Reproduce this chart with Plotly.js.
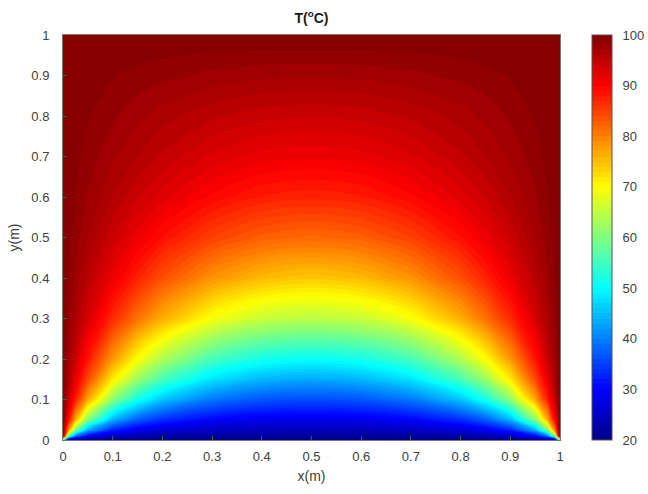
<!DOCTYPE html>
<html>
<head>
<meta charset="utf-8">
<script src="https://cdn.plot.ly/plotly-3.0.1.min.js"></script>
<style>html,body{margin:0;padding:0;background:#fff;}#plot{width:648px;height:494px;}</style>
</head>
<body>
<div id="plot"></div>
<script>
// grid positions (m)
var xs = [0, 0.01, 0.025, 0.05, 0.1, 0.15, 0.2, 0.3, 0.4, 0.5, 0.6, 0.7, 0.8, 0.85, 0.9, 0.95, 0.975, 0.99, 1];
var ys = [0, 0.01, 0.025, 0.05, 0.1, 0.15, 0.2, 0.3, 0.4, 0.5, 0.6, 0.7, 0.8, 0.9, 1];
// temperature (°C), one row per y
var T_y000 = [60,20,20,20,20,20,20,20,20,20,20,20,20,20,20,20,20,20,60];
var T_y001 = [100,60.1,39.5,30.2,25.3,23.7,22.9,22.1,21.8,21.8,21.8,22.1,22.9,23.7,25.3,30.2,39.5,60.1,100];
var T_y0025 = [100,80.7,60.1,43.8,32.8,28.9,26.9,25.1,24.4,24.2,24.4,25.1,26.9,28.9,32.8,43.8,60.1,80.7,100];
var T_y005 = [100,90.0,76.6,60.3,44.2,37.2,33.5,30.0,28.6,28.2,28.6,30.0,33.5,37.2,44.2,60.3,76.6,90.0,100];
var T_y010 = [100,95.0,87.8,76.9,61.0,51.4,45.5,39.4,36.7,36.0,36.7,39.4,45.5,51.4,61.0,76.9,87.8,95.0,100];
var T_y015 = [100,96.7,91.9,84.3,71.4,62.1,55.6,47.9,44.4,43.4,44.4,47.9,55.6,62.1,71.4,84.3,91.9,96.7,100];
var T_y020 = [100,97.6,94.1,88.4,78.1,69.9,63.6,55.5,51.6,50.4,51.6,55.5,63.6,69.9,78.1,88.4,94.1,97.6,100];
var T_y030 = [100,98.6,96.6,93.2,86.8,81.1,76.3,69.4,65.7,64.6,65.7,69.4,76.3,81.1,86.8,93.2,96.6,98.6,100];
var T_y040 = [100,99.1,97.8,95.5,91.3,87.4,83.8,78.5,75.4,74.3,75.4,78.5,83.8,87.4,91.3,95.5,97.8,99.1,100];
var T_y050 = [100,99.4,98.5,97.0,94.1,91.4,88.9,85.0,82.6,81.8,82.6,85.0,88.9,91.4,94.1,97.0,98.5,99.4,100];
var T_y060 = [100,99.6,99.0,97.9,96.0,94.1,92.4,89.7,87.9,87.3,87.9,89.7,92.4,94.1,96.0,97.9,99.0,99.6,100];
var T_y070 = [100,99.7,99.3,98.6,97.2,96.0,94.8,92.8,91.6,91.3,91.6,92.8,94.8,96.0,97.2,98.6,99.3,99.7,100];
var T_y080 = [100,99.8,99.5,99.1,98.2,97.3,96.5,95.2,94.4,94.1,94.4,95.2,96.5,97.3,98.2,99.1,99.5,99.8,100];
var T_y090 = [100,99.9,99.8,99.6,99.1,98.7,98.3,97.7,97.3,97.2,97.3,97.7,98.3,98.7,99.1,99.6,99.8,99.9,100];
var T_y100 = [100,100,100,100,100,100,100,100,100,100,100,100,100,100,100,100,100,100,100];
var zRows = [T_y000,T_y001,T_y0025,T_y005,T_y010,T_y015,T_y020,T_y030,T_y040,T_y050,T_y060,T_y070,T_y080,T_y090,T_y100];
var cbTicks = [20,30,40,50,60,70,80,90,100];
var axTicks = [0,0.1,0.2,0.3,0.4,0.5,0.6,0.7,0.8,0.9,1];

var jet = [[0,'rgb(0,0,135)'],[0.125,'rgb(0,0,255)'],[0.375,'rgb(0,255,255)'],[0.625,'rgb(255,255,0)'],[0.875,'rgb(255,0,0)'],[1,'rgb(128,0,0)']];
var txt = '#404040';
var fam = '"Liberation Sans", Arial, Helvetica, sans-serif';
var fnt = {family:fam, size:13, color:txt};

var trace = {
  type:'contour', x:xs, y:ys, z:zRows,
  colorscale:jet, zmin:20, zmax:100, zauto:false,
  autocontour:false,
  contours:{start:20, end:100, size:1, coloring:'fill', showlines:false},
  line:{width:0, smoothing:1},
  colorbar:{
    x:1.064, xanchor:'left', y:0.5, yanchor:'middle', len:1, lenmode:'fraction',
    thickness:20, thicknessmode:'pixels',
    tickvals:cbTicks, ticks:'outside', ticklen:8, tickcolor:'rgba(0,0,0,0)',
    tickfont:fnt, outlinewidth:1, outlinecolor:'#555', xpad:0, ypad:0
  },
  hoverinfo:'x+y+z'
};

var layout = {
  width:648, height:494,
  margin:{l:63, r:88, t:35, b:54, autoexpand:false},
  paper_bgcolor:'#fff', plot_bgcolor:'#fff',
  font:fnt,
  title:{text:'<b>T(<sup>o</sup>C)</b>', x:0.5, xref:'paper', xanchor:'center', y:0.963, yanchor:'middle', font:{family:fam, size:14, color:'#1a1a1a'}},
  xaxis:{range:[0,1], tickvals:axTicks, ticks:'inside', ticklen:4, tickcolor:'#555', showline:true, linecolor:'#777', linewidth:1, mirror:true, showgrid:false, zeroline:false, tickfont:fnt, ticklabelstandoff:4, automargin:false,
         title:{text:'x(m)', font:{family:fam, size:14, color:txt}, standoff:8}},
  yaxis:{range:[0,1], tickvals:axTicks, ticks:'inside', ticklen:4, tickcolor:'#555', showline:true, linecolor:'#777', linewidth:1, mirror:true, showgrid:false, zeroline:false, tickfont:fnt, ticklabelstandoff:10, automargin:false,
         title:{text:'y(m)', font:{family:fam, size:14, color:txt}, standoff:8}}
};

Plotly.newPlot('plot', [trace], layout, {displayModeBar:false, staticPlot:true});
</script>
</body>
</html>
